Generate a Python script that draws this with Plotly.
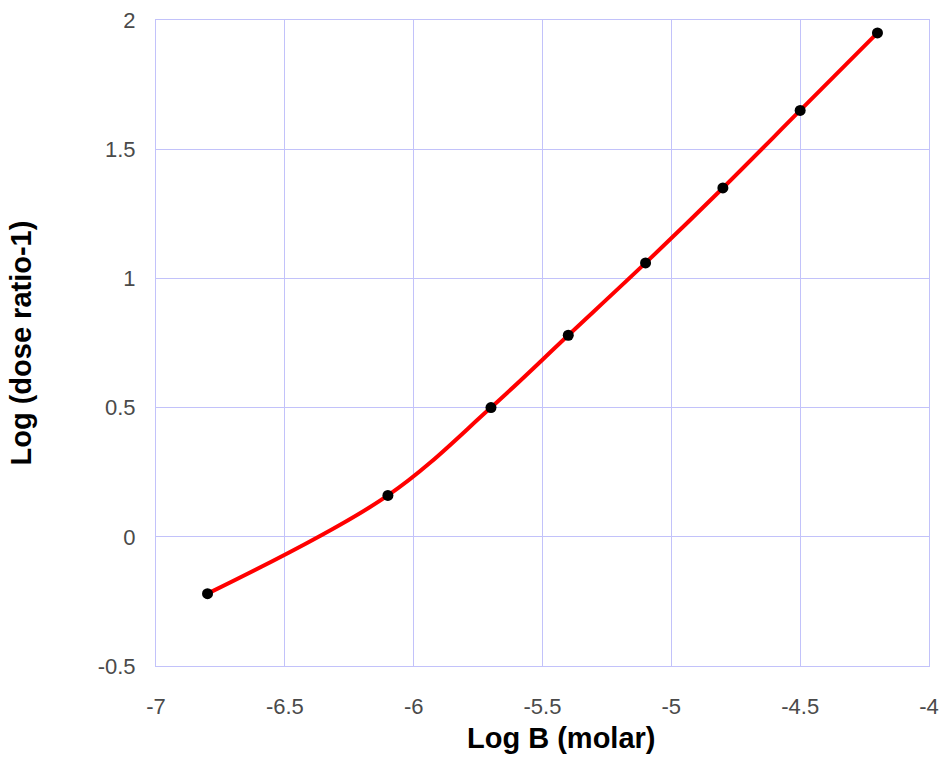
import plotly.graph_objects as go

# Schild-style data: log antagonist concentration vs log(dose ratio - 1)
log_b = [-6.8, -6.1, -5.7, -5.4, -5.1, -4.8, -4.5, -4.2]
log_dr1 = [-0.22, 0.16, 0.50, 0.78, 1.06, 1.35, 1.65, 1.95]

x_ticks = [-7, -6.5, -6, -5.5, -5, -4.5, -4]
y_ticks = [-0.5, 0, 0.5, 1, 1.5, 2]

x_title = "Log B (molar)"
y_title = "Log (dose ratio-1)"

grid_color = "#c2c2fa"
font_family = "Liberation Sans, Arial, Helvetica"

fig = go.Figure()

# smooth curve through the points
fig.add_trace(go.Scatter(
    x=log_b, y=log_dr1, mode="lines",
    line=dict(color="#ff0000", width=4, shape="spline", smoothing=1.0),
    hoverinfo="skip", showlegend=False,
))

# measured points
fig.add_trace(go.Scatter(
    x=log_b, y=log_dr1, mode="markers",
    marker=dict(color="black", size=11),
    showlegend=False,
))

axis_common = dict(
    showgrid=True, gridcolor=grid_color, gridwidth=1,
    zeroline=False, showline=True, linecolor=grid_color, linewidth=1,
    mirror=True, ticks="", automargin=False,
    tickfont=dict(family=font_family, size=22, color="#4a4a4a"),
)

fig.update_xaxes(
    range=[-7, -4], tickvals=x_ticks, ticktext=[f"{v:g}" for v in x_ticks],
    ticklabelstandoff=21, **axis_common,
)
fig.update_yaxes(
    range=[-0.5, 2], tickvals=y_ticks, ticktext=[f"{v:g}" for v in y_ticks],
    ticklabelstandoff=15, **axis_common,
)

title_font = dict(family=font_family, size=29, color="black")
fig.add_annotation(
    text=f"<b>{x_title}</b>", xref="paper", yref="paper",
    x=0.525, y=-0.112, xanchor="center", yanchor="middle",
    showarrow=False, font=title_font,
)
fig.add_annotation(
    text=f"<b>{y_title}</b>", xref="paper", yref="paper",
    x=-0.174, y=0.5, xanchor="center", yanchor="middle", textangle=-90,
    showarrow=False, font=title_font,
)

fig.update_layout(
    width=945, height=764,
    margin=dict(l=156, r=16, t=20, b=98),
    plot_bgcolor="white", paper_bgcolor="white",
)

fig.write_html("out.html")
